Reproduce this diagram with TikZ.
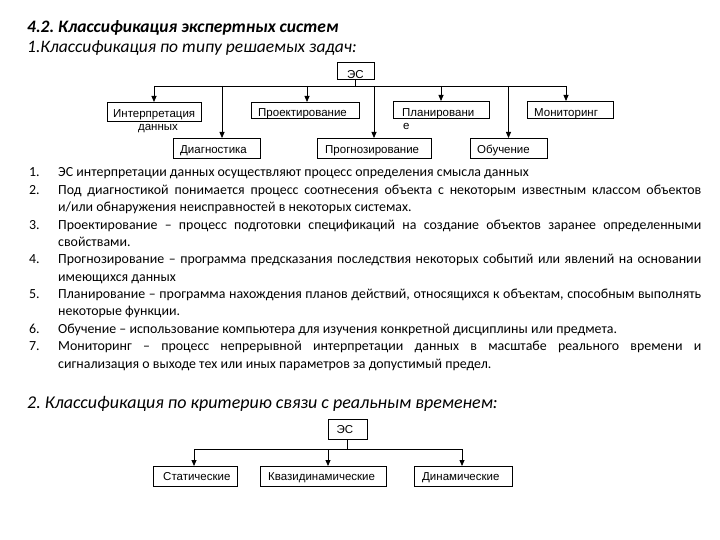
\documentclass[tikz,border=0pt]{standalone}
\usepackage{fontspec}
\setmainfont{Carlito}
\newfontfamily\arialf{Liberation Sans}
\usetikzlibrary{arrows.meta}
\newcommand{\jl}[1]{\makebox[643pt][s]{#1}}
\frenchspacing
\begin{document}
\begin{tikzpicture}[x=1pt,y=-1pt,
  bx/.style={draw, line width=0.8pt, inner sep=0pt, outer sep=0pt},
  bt/.style={font=\arialf\fontsize{11.5}{12}\selectfont, inner sep=0pt, anchor=base west},
  lt/.style={font=\fontsize{13.9}{15}\selectfont, inner sep=0pt, anchor=base west},
  arr/.style={line width=0.8pt, -{Triangle[length=6pt,width=5pt]}},
  ln/.style={line width=0.8pt}]
\useasboundingbox[fill=white] (0,0) rectangle (720,540);

% headings
\node[inner sep=0pt, anchor=base west, font=\fontsize{17.5}{19}\selectfont\bfseries\itshape] (t1) at (27,32.5) {4.2. Классификация экспертных систем};
\node[inner sep=0pt, anchor=base west, font=\fontsize{17.5}{19}\selectfont\itshape] (t2) at (27,52.5) {1.Классификация по типу решаемых задач:};

% diagram 1
\node[bx, minimum width=37pt, minimum height=17pt] (es1) at (355.5,70.5) {};
\node[bx, minimum width=94pt, minimum height=19pt] (interp) at (154,111.5) {};
\node[bx, minimum width=108pt, minimum height=16pt] (proj) at (305,110) {};
\node[bx, minimum width=96pt, minimum height=17pt] (plan) at (441,109.5) {};
\node[bx, minimum width=86pt, minimum height=17pt] (mon) at (570,109.5) {};
\node[bx, minimum width=87pt, minimum height=20pt] (diag) at (216.5,148) {};
\node[bx, minimum width=114pt, minimum height=20pt] (prog) at (374,148) {};
\node[bx, minimum width=77pt, minimum height=20pt] (obuch) at (508.5,148) {};

\coordinate (bus) at (154,86);
\coordinate (busR) at (566,86);
\draw[ln] (es1.south) -- (es1.south |- bus);
\draw[ln] (bus) -- (busR);
\draw[arr] (interp.north |- bus) -- (interp.north);
\draw[arr] ([xshift=2pt]proj.north |- bus) -- ([xshift=2pt]proj.north);
\draw[arr] ([xshift=5.5pt]diag.north |- bus) -- ([xshift=5.5pt]diag.north);
\draw[arr] (prog.north |- bus) -- (prog.north);
\draw[arr] (plan.north |- bus) -- (plan.north);
\draw[arr] (obuch.north |- bus) -- (obuch.north);
\draw[arr] ([xshift=-4pt]mon.north |- bus) -- ([xshift=-4pt]mon.north);

\node[bt, anchor=base] (les1) at (355.5,78.5) {ЭС};
\node[bt] (linterp) at (113,117.5) {Интерпретация};
\node[bt, anchor=base] (linterp2) at (158,130.5) {данных};
\node[bt] (lproj) at (258,117) {Проектирование};
\node[bt] (lplan) at (402,117) {Планировани};
\node[bt] (lplan2) at (403,130) {е};
\node[bt] (lmon) at (534,117) {Мониторинг};
\node[bt] (ldiag) at (180,154) {Диагностика};
\node[bt] (lprog) at (325,154) {Прогнозирование};
\node[bt] (lobuch) at (477,154) {Обучение};

% list
\node[lt] (n1) at (29,177) {1.};
\node[lt] (p1) at (58,177) {ЭС интерпретации данных осуществляют процесс определения смысла данных};
\node[lt] (n2) at (29,194.4) {2.};
\node[lt] (p2) at (58,194.4) {\jl{Под диагностикой понимается процесс соотнесения объекта с некоторым известным классом объектов}};
\node[lt] (p2b) at (58,211.7) {и/или обнаружения неисправностей в некоторых системах.};
\node[lt] (n3) at (29,229.1) {3.};
\node[lt] (p3) at (58,229.1) {\jl{Проектирование – процесс подготовки спецификаций на создание объектов заранее определенными}};
\node[lt] (p3b) at (58,246.4) {свойствами.};
\node[lt] (n4) at (29,263.8) {4.};
\node[lt] (p4) at (58,263.8) {\jl{Прогнозирование – программа предсказания последствия некоторых событий или явлений на основании}};
\node[lt] (p4b) at (58,281.2) {имеющихся данных};
\node[lt] (n5) at (29,298.5) {5.};
\node[lt] (p5) at (58,298.5) {\jl{Планирование – программа нахождения планов действий, относящихся к объектам, способным выполнять}};
\node[lt] (p5b) at (58,315.9) {некоторые функции.};
\node[lt] (n6) at (29,333.2) {6.};
\node[lt] (p6) at (58,333.2) {Обучение – использование компьютера для изучения конкретной дисциплины или предмета.};
\node[lt] (n7) at (29,350.6) {7.};
\node[lt] (p7) at (58,350.6) {\jl{Мониторинг – процесс непрерывной интерпретации данных в масштабе реального времени и}};
\node[lt] (p7b) at (58,368) {сигнализация о выходе тех или иных параметров за допустимый предел.};

% heading 2
\node[inner sep=0pt, anchor=base west, font=\fontsize{18}{20}\selectfont\itshape] (t3) at (27,408) {2. Классификация по критерию связи с реальным временем:};

% diagram 2
\node[bx, minimum width=39pt, minimum height=20pt] (es2) at (347.5,429) {};
\node[bx, minimum width=84pt, minimum height=20pt] (stat) at (195,476) {};
\node[bx, minimum width=126pt, minimum height=20pt] (kvazi) at (323,476) {};
\node[bx, minimum width=98pt, minimum height=20pt] (dyn) at (463,476) {};
\coordinate (bus2) at (194,449);
\coordinate (bus2R) at (462,449);
\draw[ln] (es2.south) -- (es2.south |- bus2);
\draw[ln] (bus2) -- (bus2R);
\draw[arr] ([xshift=-1pt]stat.north |- bus2) -- ([xshift=-1pt]stat.north);
\draw[arr] ([xshift=5pt]kvazi.north |- bus2) -- ([xshift=5pt]kvazi.north);
\draw[arr] ([xshift=-1pt]dyn.north |- bus2) -- ([xshift=-1pt]dyn.north);
\node[bt, anchor=base] (les2) at (345,433.5) {ЭС};
\node[bt] (lstat) at (163,480.5) {Статические};
\node[bt] (lkvazi) at (268,480.5) {Квазидинамические};
\node[bt] (ldyn) at (422,480.5) {Динамические};
\end{tikzpicture}
\end{document}
